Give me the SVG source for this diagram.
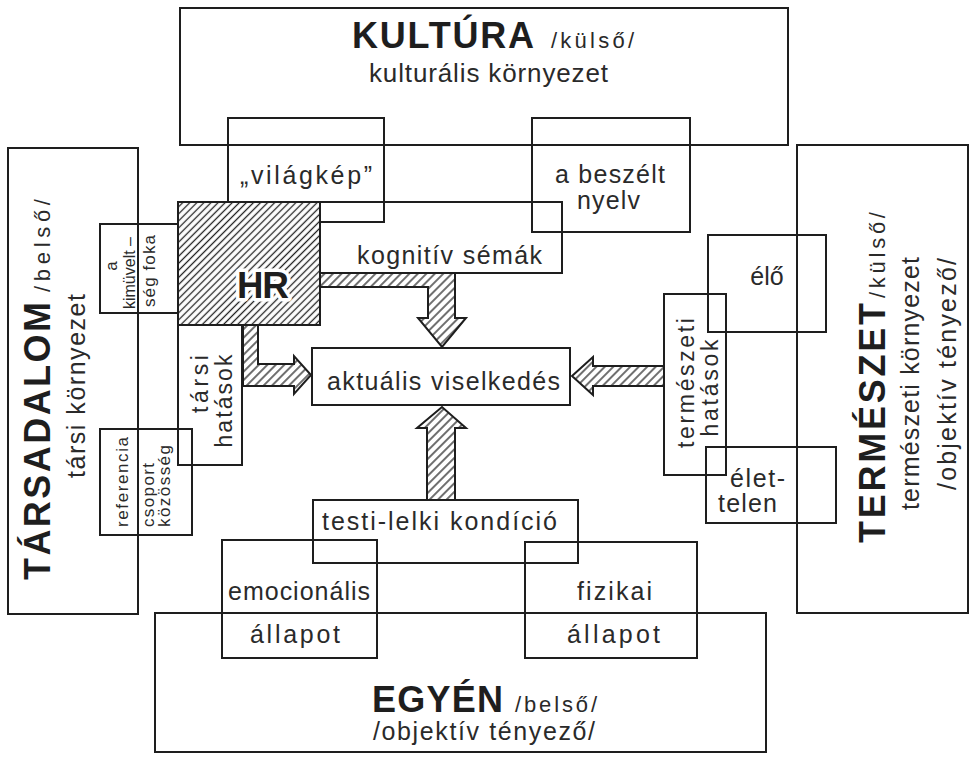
<svg xmlns="http://www.w3.org/2000/svg" width="971" height="757" viewBox="0 0 971 757">
<defs>
<pattern id="hatch" patternUnits="userSpaceOnUse" width="6" height="6" patternTransform="rotate(45)">
<rect width="6" height="6" fill="#fff"/>
<line x1="3" y1="0" x2="3" y2="6" stroke="#222" stroke-width="1.3"/>
</pattern>
<pattern id="hatchHR" patternUnits="userSpaceOnUse" width="5" height="5" patternTransform="rotate(45)">
<rect width="5" height="5" fill="#fff"/>
<line x1="2.5" y1="0" x2="2.5" y2="5" stroke="#222" stroke-width="1.3"/>
</pattern>
</defs>
<style>
rect.box{fill:none;stroke:#1e1e1e;stroke-width:2}
.arrow{fill:url(#hatch);stroke:#1e1e1e;stroke-width:2;stroke-linejoin:miter}
text{font-family:"Liberation Sans",Arial,sans-serif;fill:#2a2a2a}
.n{font-size:25px}
.s{font-size:17px}
.big{font-size:36px;font-weight:bold;fill:#1e1e1e}
.sub{font-size:22px}
.m{text-anchor:middle}
</style>
<rect width="971" height="757" fill="#fff"/>

<g id="kultura">
<rect class="box" x="180" y="8" width="608" height="137"/>
<text class="big" x="352" y="48" textLength="182" lengthAdjust="spacing">KULTÚRA</text>
<text class="sub" x="551" y="48" textLength="83" lengthAdjust="spacing">/külső/</text>
<text style="font-size:26px" x="369" y="82" textLength="239" lengthAdjust="spacing">kulturális környezet</text>
</g>

<g id="vilagkep">
<rect class="box" x="228" y="118" width="156" height="104"/>
<text class="n" x="240" y="184" textLength="132" lengthAdjust="spacing">„világkép”</text>
</g>

<g id="nyelv">
<rect class="box" x="532" y="118" width="158" height="114"/>
<text class="n" x="555" y="183" textLength="110" lengthAdjust="spacing">a beszélt</text>
<text class="n" x="577" y="209" textLength="63" lengthAdjust="spacing">nyelv</text>
</g>

<g id="kognitiv">
<rect class="box" x="320" y="202" width="242" height="71"/>
<text class="n" x="357" y="264" textLength="185" lengthAdjust="spacing">kognitív sémák</text>
</g>

<g id="tarsadalom">
<rect class="box" x="8" y="148" width="130" height="466"/>
<text class="big" transform="translate(50,580) rotate(-90)" textLength="278" lengthAdjust="spacing">TÁRSADALOM</text>
<text class="sub" transform="translate(50,292) rotate(-90)" textLength="93" lengthAdjust="spacing">/belső/</text>
<text class="n" transform="translate(85,478) rotate(-90)" textLength="184" lengthAdjust="spacing">társi környezet</text>
</g>

<g id="kimuveltseg">
<rect class="box" x="100" y="224" width="78" height="89"/>
<text class="s m" transform="translate(117,266) rotate(-90)">a</text>
<text class="s" style="font-size:16px" transform="translate(135,309) rotate(-90)" textLength="72" lengthAdjust="spacing">kimüvelt –</text>
<text class="s" transform="translate(155,307) rotate(-90)" textLength="72" lengthAdjust="spacing">ség foka</text>
</g>

<g id="referencia">
<rect class="box" x="100" y="429" width="92" height="106"/>
<text class="s" transform="translate(128,527) rotate(-90)" textLength="90" lengthAdjust="spacing">referencia</text>
<text class="s" transform="translate(154,527) rotate(-90)" textLength="64" lengthAdjust="spacing">csoport</text>
<text class="s" transform="translate(170,527) rotate(-90)" textLength="82" lengthAdjust="spacing">közösség</text>
</g>

<g id="tarsi-hatasok">
<rect class="box" x="178" y="325" width="64" height="140"/>
<text class="n m" style="font-size:23px" transform="translate(208,384) rotate(-90)" textLength="58" lengthAdjust="spacing">társi</text>
<text class="n m" style="font-size:23px" transform="translate(232,401) rotate(-90)" textLength="93" lengthAdjust="spacing">hatások</text>
</g>

<g id="hr">
<rect x="178" y="202" width="142" height="123" fill="url(#hatchHR)" stroke="#1e1e1e" stroke-width="2"/>
<text x="237" y="298" textLength="52" lengthAdjust="spacing" style="font-size:37px;font-weight:bold;fill:#1e1e1e;stroke:#fff;stroke-width:7px;paint-order:stroke;stroke-linejoin:round">HR</text>
</g>

<g id="aktualis">
<rect class="box" x="312" y="348" width="258" height="57"/>
<text class="n" x="327" y="390" textLength="233" lengthAdjust="spacing">aktuális viselkedés</text>
</g>

<g id="testi-lelki">
<rect class="box" x="313" y="500" width="265" height="63"/>
<text class="n" x="322" y="530" textLength="235" lengthAdjust="spacing">testi-lelki kondíció</text>
</g>

<g id="egyen">
<rect class="box" x="155" y="613" width="611" height="139"/>
<text class="big" x="372" y="712" textLength="131" lengthAdjust="spacing">EGYÉN</text>
<text class="sub" x="515" y="712" textLength="82" lengthAdjust="spacing">/belső/</text>
<text class="n" x="373" y="740" textLength="222" lengthAdjust="spacing">/objektív tényező/</text>
</g>

<g id="emocionalis">
<rect class="box" x="222" y="540" width="155" height="118"/>
<text class="n" x="228" y="600" textLength="142" lengthAdjust="spacing">emocionális</text>
<text class="n" x="250" y="643" textLength="90" lengthAdjust="spacing">állapot</text>
</g>

<g id="fizikai">
<rect class="box" x="525" y="542" width="172" height="116"/>
<text class="n" x="577" y="600" textLength="75" lengthAdjust="spacing">fizikai</text>
<text class="n" x="567" y="643" textLength="93" lengthAdjust="spacing">állapot</text>
</g>

<g id="termeszet">
<rect class="box" x="797" y="145" width="171" height="468"/>
<text class="big" transform="translate(885,543) rotate(-90)" textLength="240" lengthAdjust="spacing">TERMÉSZET</text>
<text class="sub" transform="translate(885,298) rotate(-90)" textLength="86" lengthAdjust="spacing">/külső/</text>
<text class="n" transform="translate(919,510) rotate(-90)" textLength="253" lengthAdjust="spacing">természeti környezet</text>
<text class="n" transform="translate(956,490) rotate(-90)" textLength="232" lengthAdjust="spacing">/objektív tényező/</text>
</g>

<g id="elo">
<rect class="box" x="708" y="235" width="118" height="97"/>
<text class="n m" x="767" y="285">élő</text>
</g>

<g id="termeszeti-hatasok">
<rect class="box" x="664" y="294" width="62" height="181"/>
<text class="n m" style="font-size:23px" transform="translate(694,383) rotate(-90)" textLength="130" lengthAdjust="spacing">természeti</text>
<text class="n m" style="font-size:23px" transform="translate(718,388) rotate(-90)" textLength="97" lengthAdjust="spacing">hatások</text>
</g>

<g id="elettelen">
<rect class="box" x="706" y="447" width="130" height="76"/>
<text class="n" x="730" y="487" textLength="55" lengthAdjust="spacing">élet-</text>
<text class="n" x="718" y="512" textLength="59" lengthAdjust="spacing">telen</text>
</g>

<g id="connectors">
<polygon class="arrow" points="320,273 455,273 455,318 466,318 442,347 418,318 428,318 428,287 320,287"/>
<polygon class="arrow" points="243,325 258,325 258,364 294,364 294,356 311,375 294,394 294,386 243,386"/>
<polygon class="arrow" points="664,366 593,366 593,357 572,376 593,395 593,386 664,386"/>
<polygon class="arrow" points="427,500 427,428 417,428 442,407 466,428 455,428 455,500"/>
</g>
</svg>
